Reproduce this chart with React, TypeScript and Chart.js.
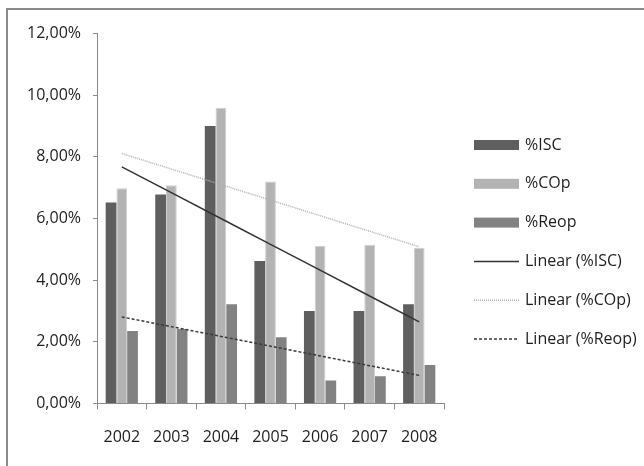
import React, { useEffect, useRef } from "react";
import { Chart, registerables } from "chart.js";

Chart.register(...registerables);

const years = ["2002", "2003", "2004", "2005", "2006", "2007", "2008"];
const isc = [6.52, 6.78, 9.0, 4.62, 3.0, 3.0, 3.22];
const cop = [6.98, 7.08, 9.59, 7.2, 5.12, 5.15, 5.05];
const reop = [2.35, 2.42, 3.22, 2.15, 0.75, 0.88, 1.25];
const yTicks = [0, 2, 4, 6, 8, 10, 12];

const FONT = "'Open Sans', 'DejaVu Sans Condensed', sans-serif";
const FONT_SIZE = 16;
const TEXT = "#1e1e1e";
const AXIS = "#8a8a8a";

// least-squares trend evaluated at each category position
function linearTrend(values: number[]): number[] {
  const n = values.length;
  const mx = (n - 1) / 2;
  const my = values.reduce((a, b) => a + b, 0) / n;
  let sxy = 0;
  let sxx = 0;
  values.forEach((v, i) => {
    sxy += (i - mx) * (v - my);
    sxx += (i - mx) * (i - mx);
  });
  const slope = sxy / sxx;
  return values.map((_, i) => my + slope * (i - mx));
}

const fmtPct = (v: number) => v.toFixed(2).replace(".", ",") + "%";

// legend drawn in the right margin, one row per dataset
const sideLegend = {
  id: "sideLegend",
  afterDraw(chart: any) {
    const ctx = chart.ctx as CanvasRenderingContext2D;
    const x0 = 474;
    const w = 45;
    const textX = 525;
    const y0 = 145;
    const step = 38.8;
    ctx.save();
    ctx.font = `${FONT_SIZE}px ${FONT}`;
    ctx.textBaseline = "middle";
    ctx.textAlign = "left";
    chart.data.datasets.forEach((ds: any, i: number) => {
      const y = y0 + i * step;
      if (ds.type === "line") {
        ctx.strokeStyle = ds.borderColor;
        ctx.lineWidth = ds.borderWidth;
        ctx.setLineDash(ds.borderDash || []);
        ctx.beginPath();
        ctx.moveTo(x0, y);
        ctx.lineTo(x0 + w, y);
        ctx.stroke();
        ctx.setLineDash([]);
      } else {
        ctx.fillStyle = ds.backgroundColor;
        ctx.fillRect(x0, y - 5, w, 10);
      }
      ctx.fillStyle = TEXT;
      ctx.fillText(ds.label, textX, y);
    });
    ctx.restore();
  },
};

export default function App() {
  const ref = useRef<HTMLCanvasElement | null>(null);

  useEffect(() => {
    if (!ref.current) return;
    const chart = new Chart(ref.current, {
      type: "bar",
      data: {
        labels: years,
        datasets: [
          { type: "bar", label: "%ISC", data: isc, backgroundColor: "#5f5f5f", borderWidth: 0, order: 2 },
          { type: "bar", label: "%COp", data: cop, backgroundColor: "#b3b3b3", borderColor: "#cfcfcf", borderWidth: 1, order: 2 },
          { type: "bar", label: "%Reop", data: reop, backgroundColor: "#828282", borderWidth: 0, order: 2 },
          {
            type: "line", label: "Linear (%ISC)", data: linearTrend(isc),
            borderColor: "#333333", borderWidth: 1.5, pointRadius: 0, fill: false, order: 1,
          },
          {
            type: "line", label: "Linear (%COp)", data: linearTrend(cop),
            borderColor: "#b0b0b0", borderWidth: 1.5, borderDash: [1, 1], pointRadius: 0, fill: false, order: 1,
          },
          {
            type: "line", label: "Linear (%Reop)", data: linearTrend(reop),
            borderColor: "#3a3a3a", borderWidth: 1.5, borderDash: [3, 2], pointRadius: 0, fill: false, order: 1,
          },
        ] as any,
      },
      options: {
        responsive: false,
        animation: false,
        layout: { padding: { left: 0, top: 33.5, right: 200, bottom: 0 } },
        plugins: { legend: { display: false }, tooltip: { enabled: false } },
        datasets: { bar: { barPercentage: 1, categoryPercentage: 0.65 } },
        scales: {
          x: {
            grid: { display: true, drawOnChartArea: false, drawTicks: true, tickLength: 6, color: AXIS, offset: true },
            border: { color: AXIS, width: 1 },
            ticks: { color: TEXT, font: { family: FONT, size: FONT_SIZE }, padding: 18, maxRotation: 0 },
            afterFit: (s: any) => { s.height = 62.5; },
          },
          y: {
            min: 0,
            max: 12,
            afterBuildTicks: (s: any) => { s.ticks = yTicks.map((v) => ({ value: v })); },
            grid: { display: true, drawOnChartArea: false, drawTicks: true, tickLength: 4, color: AXIS },
            border: { color: AXIS, width: 1 },
            ticks: { color: TEXT, font: { family: FONT, size: FONT_SIZE }, padding: 12, callback: (v: any) => fmtPct(Number(v)) },
            afterFit: (s: any) => { s.width = 97; },
          },
        },
      },
      plugins: [sideLegend],
    });
    return () => chart.destroy();
  }, []);

  return (
    <div style={{ position: "absolute", left: 0, top: 0, width: 644, height: 466, background: "#fff", overflow: "hidden" }}>
      <canvas ref={ref} width={644} height={466} style={{ position: "absolute", left: 0, top: 0 }} />
      <div
        style={{
          position: "absolute", left: 6, top: 8, width: 700, height: 500,
          borderTop: "2px solid #8a8a8a", borderLeft: "2px solid #8a8a8a", pointerEvents: "none",
        }}
      />
    </div>
  );
}
